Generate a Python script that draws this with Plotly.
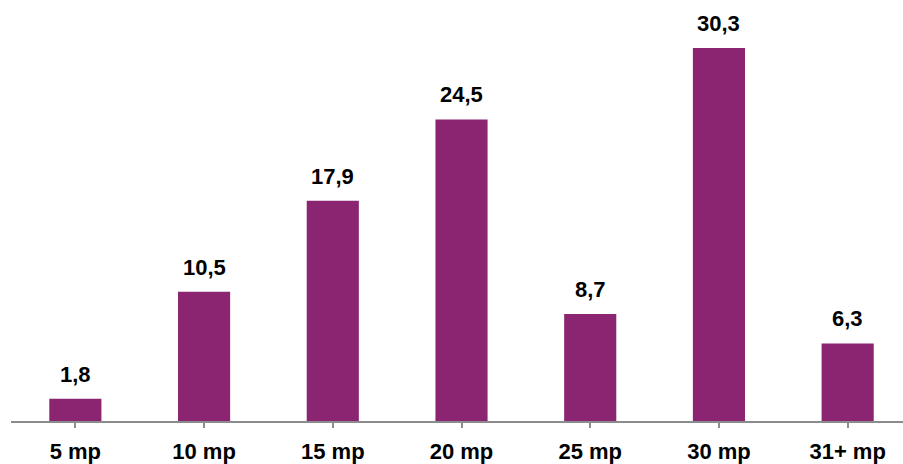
import plotly.graph_objects as go

categories = ["5 mp", "10 mp", "15 mp", "20 mp", "25 mp", "30 mp", "31+ mp"]
values = [1.8, 10.5, 17.9, 24.5, 8.7, 30.3, 6.3]
value_labels = ["1,8", "10,5", "17,9", "24,5", "8,7", "30,3", "6,3"]

bar_color = "#8B2572"
font_family = "Liberation Sans, Arial, sans-serif"

fig = go.Figure(
    go.Bar(
        x=list(range(len(categories))),
        y=values,
        width=0.405,
        marker=dict(color=bar_color, line=dict(width=0)),
        hoverinfo="skip",
    )
)

for i, (v, lab) in enumerate(zip(values, value_labels)):
    fig.add_annotation(
        x=i, y=v, text=f"<b>{lab}</b>", showarrow=False,
        yanchor="bottom", yshift=10,
        font=dict(family=font_family, size=22, color="#000000"),
    )

fig.update_layout(
    width=903, height=464,
    margin=dict(l=11, r=0, t=0, b=39),
    paper_bgcolor="white", plot_bgcolor="white",
    showlegend=False,
    xaxis=dict(
        range=[-0.5, 6.43],
        tickmode="array",
        tickvals=list(range(len(categories))),
        ticktext=[f"<b>{c}</b>" for c in categories],
        showline=True, linecolor="#8c8c8c", linewidth=1.5,
        ticks="outside", ticklen=5, tickcolor="#8c8c8c", tickwidth=1.5,
        tickson="boundaries",
        showgrid=False, zeroline=False,
        ticklabelstandoff=5,
        tickfont=dict(family=font_family, size=22, color="#000000"),
    ),
    yaxis=dict(
        range=[0, 34.2],
        visible=False, showgrid=False, zeroline=False,
    ),
)

fig.write_html("out.html")
